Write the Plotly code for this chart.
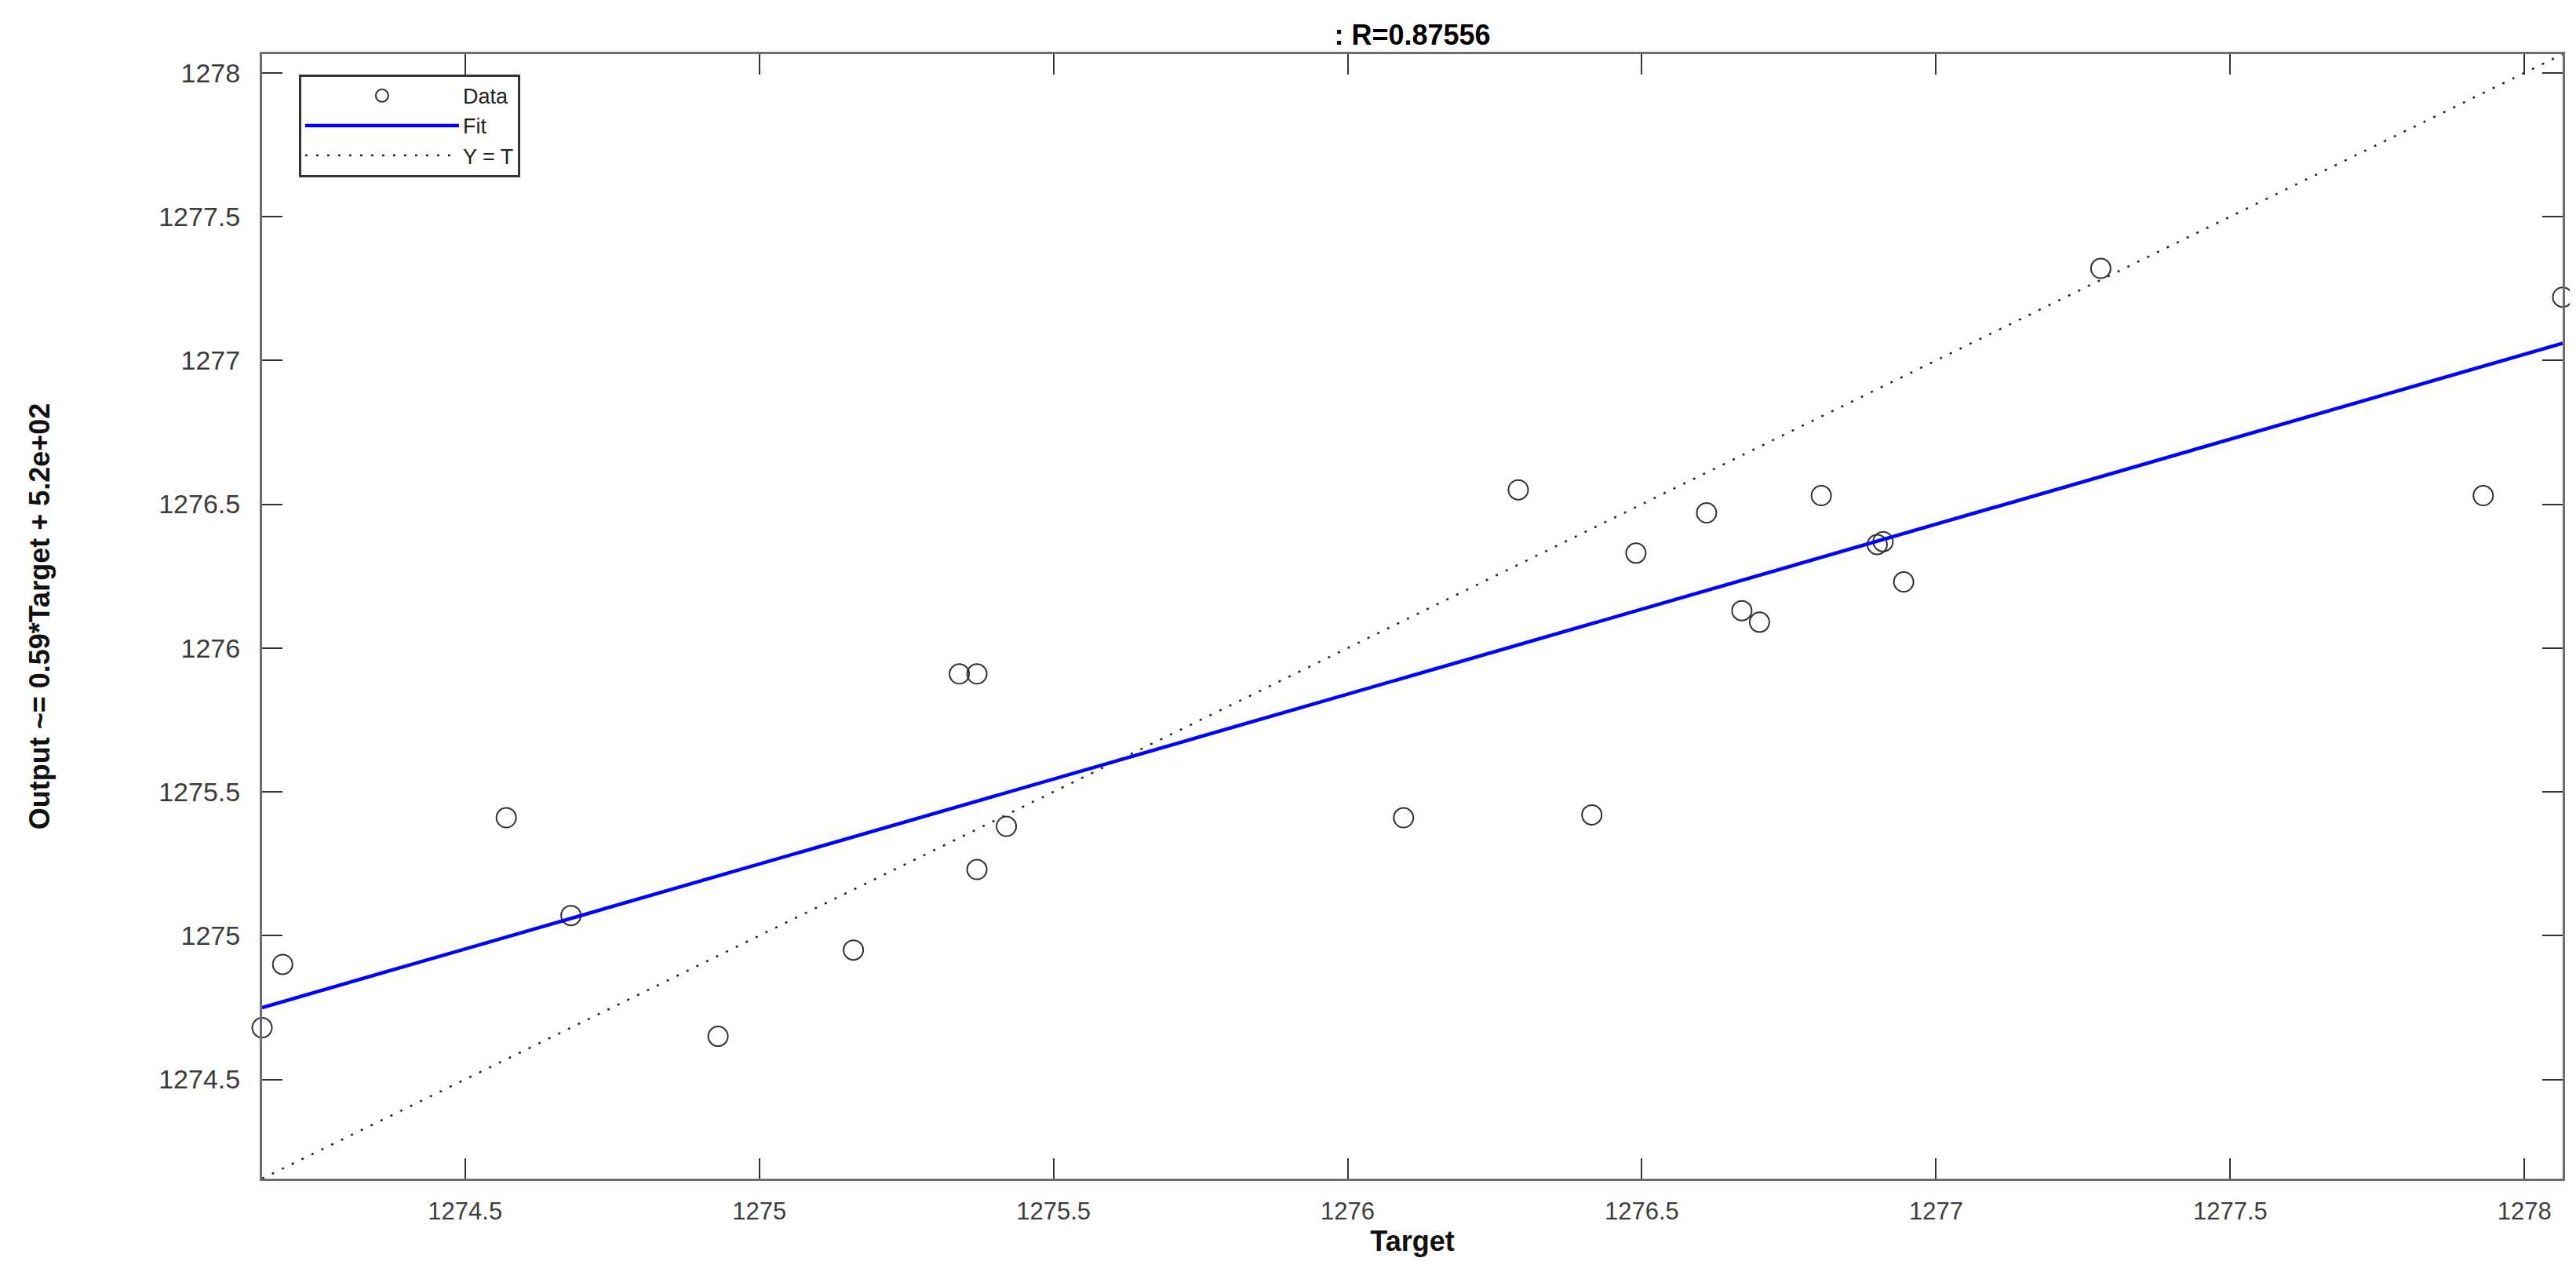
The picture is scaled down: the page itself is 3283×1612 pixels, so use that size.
import plotly.graph_objects as go

# values (MATLAB plotregression output)
targets = [1274.155, 1274.19, 1274.57, 1274.68, 1274.93, 1275.16, 1275.34, 1275.37,
           1275.37, 1275.42, 1276.095, 1276.29, 1276.415, 1276.49, 1276.61, 1276.67,
           1276.70, 1276.805, 1276.90, 1276.91, 1276.945, 1277.28, 1277.93, 1278.065]
outputs = [1274.68, 1274.90, 1275.41, 1275.07, 1274.65, 1274.95, 1275.91, 1275.91,
           1275.23, 1275.38, 1275.41, 1276.55, 1275.42, 1276.33, 1276.47, 1276.13,
           1276.09, 1276.53, 1276.36, 1276.37, 1276.23, 1277.32, 1276.53, 1277.22]
fit_slope = 0.5908
fit_intercept = 521.979
r_value = 0.87556
tick_vals = [1274.5, 1275, 1275.5, 1276, 1276.5, 1277, 1277.5, 1278]
tick_text = ["1274.5", "1275", "1275.5", "1276", "1276.5", "1277", "1277.5", "1278"]

lo = min(min(targets), min(outputs))
hi = max(max(targets), max(outputs))
fit_x = [lo, hi]
fit_y = [fit_slope * v + fit_intercept for v in fit_x]

font_family = "Liberation Sans, Arial, sans-serif"

fig = go.Figure()
fig.add_trace(go.Scatter(
    x=targets, y=outputs, mode="markers", name="Data", cliponaxis=False,
    marker=dict(symbol="circle-open", size=25, color="#303030", line=dict(width=2))))
fig.add_trace(go.Scatter(
    x=fit_x, y=fit_y, mode="lines", name="Fit",
    line=dict(color="#0000ff", width=4.5)))
fig.add_trace(go.Scatter(
    x=[lo, hi], y=[lo, hi], mode="lines", name="Y = T",
    line=dict(color="#222222", width=2.5, dash="3px,11px")))

axis_common = dict(
    range=[lo, hi], tickvals=tick_vals, ticktext=tick_text,
    showgrid=False, zeroline=False, showline=True, mirror="ticks",
    linecolor="#6e6e6e", linewidth=3, ticks="inside", ticklen=26,
    tickwidth=2, tickcolor="#333333")

fig.update_layout(
    width=3283, height=1612,
    paper_bgcolor="white", plot_bgcolor="white",
    margin=dict(l=326, r=25, t=61, b=118),
    font=dict(family=font_family, color="black"),
    title=dict(text="<b>: R=%.5f</b>" % r_value, x=0.5, xref="paper",
               y=1 - 36 / 1612, yanchor="middle",
               font=dict(size=36, color="black")),
    xaxis=dict(**axis_common, ticklabelstandoff=12,
               tickfont=dict(size=31, color="#3c3c3c", family=font_family),
               title=dict(text="<b>Target</b>", standoff=4,
                          font=dict(size=36, color="#111111"))),
    yaxis=dict(**axis_common, ticklabelstandoff=18,
               tickfont=dict(size=34, color="#3c3c3c", family=font_family),
               title=dict(text="<b>Output ~= 0.59*Target + 5.2e+02</b>", standoff=128,
                          font=dict(size=36, color="#111111"))),
    legend=dict(x=0.016, y=0.982, xanchor="left", yanchor="top",
                bgcolor="white", bordercolor="#333333", borderwidth=3,
                itemwidth=196, tracegroupgap=0,
                font=dict(size=27, color="#222222", family=font_family)),
    showlegend=True)

fig.write_html("out.html")
